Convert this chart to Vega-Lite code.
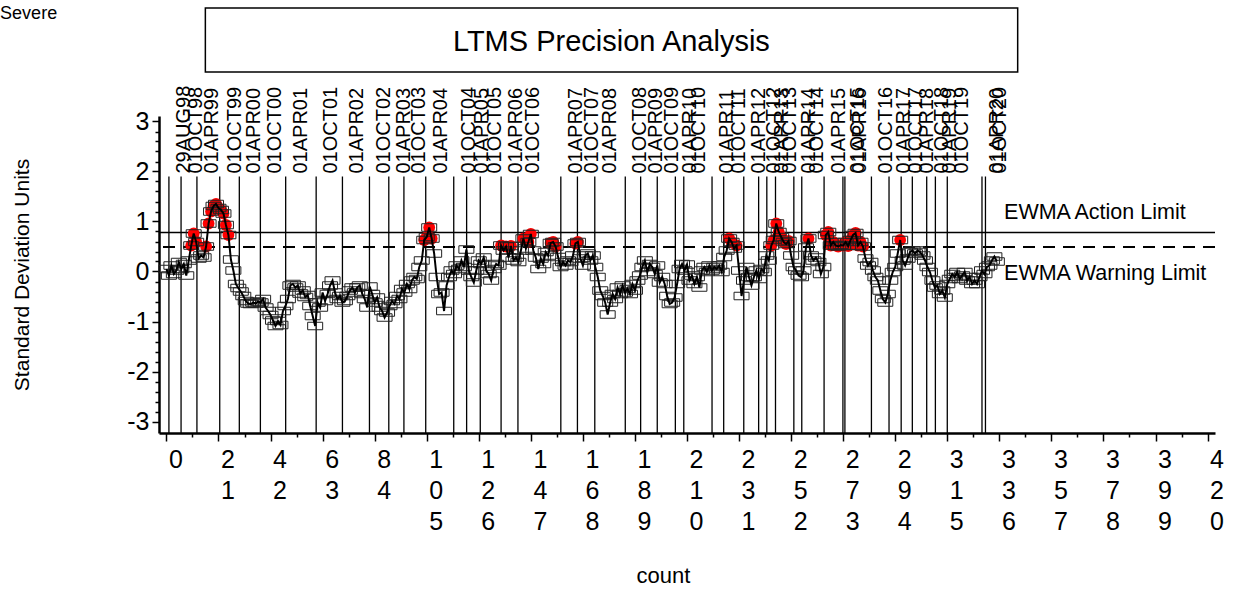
{
 "$schema": "https://vega.github.io/schema/vega-lite/v6.json",
 "width": 1056,
 "height": 317,
 "autosize": {"type": "none"},
 "padding": {"left": 159, "top": 116, "right": 18, "bottom": 160},
 "background": "white",
 "config": {
  "view": {"stroke": null},
  "font": "Liberation Sans",
  "axis": {"grid": false, "domainColor": "black", "tickColor": "black", "labelColor": "black", "titleColor": "black", "labelFont": "Liberation Sans", "titleFont": "Liberation Sans", "titleFontWeight": "normal"}
 },
 "datasets": {
  "dates": [
   {"date": "29AUG98", "count": 1.0}, {"date": "01OCT98", "count": 5.9}, {"date": "01APR99", "count": 12.3},
   {"date": "01OCT99", "count": 21.5}, {"date": "01APR00", "count": 29.4}, {"date": "01OCT00", "count": 37.9},
   {"date": "01APR01", "count": 48.1}, {"date": "01OCT01", "count": 60.4}, {"date": "01APR02", "count": 71.0},
   {"date": "01OCT02", "count": 81.9}, {"date": "01APR03", "count": 89.7}, {"date": "01OCT03", "count": 95.8},
   {"date": "01APR04", "count": 104.6}, {"date": "01OCT04", "count": 115.9}, {"date": "01APR05", "count": 121.1},
   {"date": "01OCT05", "count": 126.6}, {"date": "01APR06", "count": 135.0}, {"date": "01OCT06", "count": 141.8},
   {"date": "01APR07", "count": 159.1}, {"date": "01OCT07", "count": 165.8}, {"date": "01APR08", "count": 172.8},
   {"date": "01OCT08", "count": 185.1}, {"date": "01APR09", "count": 191.3}, {"date": "01OCT09", "count": 198.0},
   {"date": "01APR10", "count": 205.3}, {"date": "01OCT10", "count": 208.7}, {"date": "01APR11", "count": 220.1},
   {"date": "01OCT11", "count": 224.8}, {"date": "01APR12", "count": 232.9}, {"date": "01OCT12", "count": 238.9},
   {"date": "01APR13", "count": 242.2}, {"date": "01OCT13", "count": 245.7}, {"date": "01APR14", "count": 253.1},
   {"date": "01OCT14", "count": 256.3}, {"date": "01APR15", "count": 265.3}, {"date": "01OCT15", "count": 272.9},
   {"date": "01APR16", "count": 273.7}, {"date": "01OCT16", "count": 284.4}, {"date": "01APR17", "count": 291.5},
   {"date": "01OCT17", "count": 296.4}, {"date": "01APR18", "count": 300.9}, {"date": "01OCT18", "count": 306.7},
   {"date": "01APR19", "count": 310.2}, {"date": "01OCT19", "count": 315.0}, {"date": "01APR20", "count": 329.0},
   {"date": "01OCT20", "count": 330.4}
  ],
  "ewma": [
   {"count":0,"value":0.05},{"count":1,"value":-0.08},{"count":2,"value":0.12},{"count":3,"value":-0.05},{"count":4,"value":0.02},
   {"count":5,"value":0.19},{"count":6,"value":0.05},{"count":7,"value":0.15},{"count":8,"value":-0.08},{"count":9,"value":0.22},
   {"count":10,"value":0.52},{"count":11,"value":0.76},{"count":12,"value":0.59},{"count":13,"value":0.26},{"count":14,"value":0.32},
   {"count":15,"value":0.28},{"count":16,"value":0.5},{"count":17,"value":0.96},{"count":18,"value":1.2},{"count":19,"value":1.31},
   {"count":20,"value":1.35},{"count":21,"value":1.27},{"count":22,"value":1.23},{"count":23,"value":1.16},{"count":24,"value":0.93},
   {"count":25,"value":0.73},{"count":26,"value":0.24},{"count":27,"value":0.02},{"count":28,"value":-0.25},{"count":29,"value":-0.33},
   {"count":30,"value":-0.4},{"count":31,"value":-0.49},{"count":32,"value":-0.59},{"count":33,"value":-0.64},{"count":34,"value":-0.65},
   {"count":35,"value":-0.62},{"count":36,"value":-0.64},{"count":37,"value":-0.6},{"count":38,"value":-0.62},{"count":39,"value":-0.55},
   {"count":40,"value":-0.72},{"count":41,"value":-0.79},{"count":42,"value":-0.87},{"count":43,"value":-0.98},{"count":44,"value":-1.09},
   {"count":45,"value":-0.99},{"count":46,"value":-1.07},{"count":47,"value":-0.79},{"count":48,"value":-0.69},{"count":49,"value":-0.55},
   {"count":50,"value":-0.28},{"count":51,"value":-0.25},{"count":52,"value":-0.32},{"count":53,"value":-0.28},{"count":54,"value":-0.44},
   {"count":55,"value":-0.38},{"count":56,"value":-0.51},{"count":57,"value":-0.47},{"count":58,"value":-0.69},{"count":59,"value":-0.89},
   {"count":60,"value":-1.09},{"count":61,"value":-0.62},{"count":62,"value":-0.72},{"count":63,"value":-0.42},{"count":64,"value":-0.59},
   {"count":65,"value":-0.45},{"count":66,"value":-0.28},{"count":67,"value":-0.18},{"count":68,"value":-0.42},{"count":69,"value":-0.55},
   {"count":70,"value":-0.49},{"count":71,"value":-0.62},{"count":72,"value":-0.59},{"count":73,"value":-0.49},{"count":74,"value":-0.38},
   {"count":75,"value":-0.32},{"count":76,"value":-0.42},{"count":77,"value":-0.32},{"count":78,"value":-0.28},{"count":79,"value":-0.45},
   {"count":80,"value":-0.55},{"count":81,"value":-0.72},{"count":82,"value":-0.3},{"count":83,"value":-0.45},{"count":84,"value":-0.62},
   {"count":85,"value":-0.52},{"count":86,"value":-0.72},{"count":87,"value":-0.79},{"count":88,"value":-0.92},{"count":89,"value":-0.82},
   {"count":90,"value":-0.69},{"count":91,"value":-0.59},{"count":92,"value":-0.65},{"count":93,"value":-0.49},{"count":94,"value":-0.55},
   {"count":95,"value":-0.35},{"count":96,"value":-0.42},{"count":97,"value":-0.25},{"count":98,"value":-0.35},{"count":99,"value":-0.18},
   {"count":100,"value":-0.11},{"count":101,"value":-0.15},{"count":102,"value":0.09},{"count":103,"value":0.22},{"count":104,"value":0.63},
   {"count":105,"value":0.69},{"count":106,"value":0.88},{"count":107,"value":0.66},{"count":108,"value":0.36},{"count":109,"value":-0.11},
   {"count":110,"value":-0.45},{"count":111,"value":-0.42},{"count":112,"value":-0.79},{"count":113,"value":-0.28},{"count":114,"value":-0.11},
   {"count":115,"value":0.02},{"count":116,"value":-0.05},{"count":117,"value":0.12},{"count":118,"value":0.05},{"count":119,"value":0.22},
   {"count":120,"value":0.09},{"count":121,"value":0.44},{"count":122,"value":0.02},{"count":123,"value":-0.11},{"count":124,"value":-0.22},
   {"count":125,"value":0.02},{"count":126,"value":0.22},{"count":127,"value":0.15},{"count":128,"value":0.28},{"count":129,"value":0.02},
   {"count":130,"value":-0.05},{"count":131,"value":-0.18},{"count":132,"value":0.05},{"count":133,"value":0.15},{"count":134,"value":0.12},
   {"count":135,"value":0.52},{"count":136,"value":0.42},{"count":137,"value":0.5},{"count":138,"value":0.28},{"count":139,"value":0.51},
   {"count":140,"value":0.22},{"count":141,"value":0.28},{"count":142,"value":0.19},{"count":143,"value":0.42},{"count":144,"value":0.66},
   {"count":145,"value":0.46},{"count":146,"value":0.59},{"count":147,"value":0.75},{"count":148,"value":0.42},{"count":149,"value":0.28},
   {"count":150,"value":0.05},{"count":151,"value":0.26},{"count":152,"value":0.15},{"count":153,"value":0.39},{"count":154,"value":0.32},
   {"count":155,"value":0.57},{"count":156,"value":0.59},{"count":157,"value":0.5},{"count":158,"value":0.29},{"count":159,"value":0.09},
   {"count":160,"value":0.19},{"count":161,"value":0.12},{"count":162,"value":0.22},{"count":163,"value":0.19},{"count":164,"value":0.32},
   {"count":165,"value":0.56},{"count":166,"value":0.59},{"count":167,"value":0.26},{"count":168,"value":0.12},{"count":169,"value":0.32},
   {"count":170,"value":0.36},{"count":171,"value":0.22},{"count":172,"value":0.32},{"count":173,"value":0.09},{"count":174,"value":-0.11},
   {"count":175,"value":-0.38},{"count":176,"value":-0.49},{"count":177,"value":-0.62},{"count":178,"value":-0.86},{"count":179,"value":-0.62},
   {"count":180,"value":-0.45},{"count":181,"value":-0.55},{"count":182,"value":-0.32},{"count":183,"value":-0.45},{"count":184,"value":-0.28},
   {"count":185,"value":-0.42},{"count":186,"value":-0.35},{"count":187,"value":-0.45},{"count":188,"value":-0.25},{"count":189,"value":-0.38},
   {"count":190,"value":-0.18},{"count":191,"value":-0.08},{"count":192,"value":0.09},{"count":193,"value":0.22},{"count":194,"value":-0.01},
   {"count":195,"value":0.15},{"count":196,"value":0.09},{"count":197,"value":-0.05},{"count":198,"value":0.12},{"count":199,"value":-0.22},
   {"count":200,"value":-0.11},{"count":201,"value":-0.25},{"count":202,"value":-0.49},{"count":203,"value":-0.65},{"count":204,"value":-0.62},
   {"count":205,"value":-0.52},{"count":206,"value":-0.25},{"count":207,"value":0.05},{"count":208,"value":0.15},{"count":209,"value":0.02},
   {"count":210,"value":0.14},{"count":211,"value":-0.18},{"count":212,"value":-0.08},{"count":213,"value":-0.25},{"count":214,"value":-0.11},
   {"count":215,"value":-0.32},{"count":216,"value":0.02},{"count":217,"value":0.09},{"count":218,"value":-0.01},{"count":219,"value":0.12},
   {"count":220,"value":0.02},{"count":221,"value":0.09},{"count":222,"value":0.05},{"count":223,"value":0.12},{"count":224,"value":-0.01},
   {"count":225,"value":0.29},{"count":226,"value":0.42},{"count":227,"value":0.66},{"count":228,"value":0.59},{"count":229,"value":0.46},
   {"count":230,"value":0.52},{"count":231,"value":0.02},{"count":232,"value":-0.49},{"count":233,"value":-0.18},{"count":234,"value":0.09},
   {"count":235,"value":-0.11},{"count":236,"value":-0.28},{"count":237,"value":-0.11},{"count":238,"value":0.02},{"count":239,"value":-0.15},
   {"count":240,"value":0.05},{"count":241,"value":-0.01},{"count":242,"value":0.32},{"count":243,"value":0.22},{"count":244,"value":0.52},
   {"count":245,"value":0.63},{"count":246,"value":0.96},{"count":247,"value":0.79},{"count":248,"value":0.69},{"count":249,"value":0.59},
   {"count":250,"value":0.55},{"count":251,"value":0.61},{"count":252,"value":0.32},{"count":253,"value":0.09},{"count":254,"value":0.02},
   {"count":255,"value":-0.08},{"count":256,"value":-0.11},{"count":257,"value":0.02},{"count":258,"value":0.48},{"count":259,"value":0.66},
   {"count":260,"value":0.32},{"count":261,"value":0.22},{"count":262,"value":0.28},{"count":263,"value":0.19},{"count":264,"value":-0.05},
   {"count":265,"value":0.09},{"count":266,"value":0.73},{"count":267,"value":0.79},{"count":268,"value":0.52},{"count":269,"value":0.59},
   {"count":270,"value":0.52},{"count":271,"value":0.5},{"count":272,"value":0.53},{"count":273,"value":0.52},{"count":274,"value":0.59},
   {"count":275,"value":0.51},{"count":276,"value":0.63},{"count":277,"value":0.73},{"count":278,"value":0.77},{"count":279,"value":0.52},
   {"count":280,"value":0.59},{"count":281,"value":0.5},{"count":282,"value":0.26},{"count":283,"value":0.12},{"count":284,"value":0.19},
   {"count":285,"value":0.02},{"count":286,"value":-0.11},{"count":287,"value":-0.18},{"count":288,"value":-0.38},{"count":289,"value":-0.55},
   {"count":290,"value":-0.62},{"count":291,"value":-0.45},{"count":292,"value":-0.18},{"count":293,"value":-0.01},{"count":294,"value":0.09},
   {"count":295,"value":0.36},{"count":296,"value":0.63},{"count":297,"value":0.22},{"count":298,"value":0.12},{"count":299,"value":0.26},
   {"count":300,"value":0.39},{"count":301,"value":0.42},{"count":302,"value":0.36},{"count":303,"value":0.42},{"count":304,"value":0.39},
   {"count":305,"value":0.32},{"count":306,"value":0.22},{"count":307,"value":0.09},{"count":308,"value":-0.01},{"count":309,"value":-0.18},
   {"count":310,"value":-0.32},{"count":311,"value":-0.28},{"count":312,"value":-0.45},{"count":313,"value":-0.38},{"count":314,"value":-0.52},
   {"count":315,"value":-0.25},{"count":316,"value":-0.15},{"count":317,"value":-0.05},{"count":318,"value":-0.11},{"count":319,"value":-0.01},
   {"count":320,"value":-0.15},{"count":321,"value":-0.08},{"count":322,"value":-0.01},{"count":323,"value":-0.18},{"count":324,"value":-0.11},
   {"count":325,"value":-0.25},{"count":326,"value":-0.18},{"count":327,"value":-0.25},{"count":328,"value":-0.11},{"count":329,"value":0.02},
   {"count":330,"value":-0.05},{"count":331,"value":0.09},{"count":332,"value":0.12},{"count":333,"value":0.22},{"count":334,"value":0.3},
   {"count":335,"value":0.2}
  ]
 },
 "resolve": {"axis": {"x": "independent", "y": "independent"}},
 "layer": [
  {
   "data": {"name": "dates"},
   "mark": {"type": "rule", "color": "black", "strokeWidth": 1.3},
   "encoding": {
    "x": {"field": "count", "type": "quantitative",
          "scale": {"domain": [-3, 423], "nice": false, "zero": false},
          "axis": {"orient": "bottom", "values": [10.5,31.5,52.5,73.5,94.5,115.5,136.5,157.5,178.5,199.5,220.5,241.5,262.5,283.5,304.5,325.5,346.5,367.5,388.5,409.5],
                   "tickSize": 4, "tickWidth": 1.5, "labels": false, "domain": false, "title": null}},
    "y": {"datum": 1.9, "type": "quantitative",
          "scale": {"domain": [-3.23, 3.11], "nice": false, "zero": false},
          "axis": {"orient": "left", "values": [-2.8,-2.6,-2.4,-2.2,-1.8,-1.6,-1.4,-1.2,-0.8,-0.6,-0.4,-0.2,0.2,0.4,0.6,0.8,1.2,1.4,1.6,1.8,2.2,2.4,2.6,2.8],
                   "tickSize": 4, "tickWidth": 1.5, "labels": false, "domain": false, "title": null}},
    "y2": {"datum": -3.23}
   }
  },
  {
   "data": {"name": "dates"},
   "mark": {"type": "text", "angle": 270, "align": "left", "baseline": "middle", "fontSize": 20, "dx": 3, "dy": 15, "color": "black", "font": "Liberation Sans"},
   "encoding": {
    "x": {"field": "count", "type": "quantitative", "axis": null},
    "y": {"datum": 1.9, "type": "quantitative", "axis": null},
    "text": {"field": "date"}
   }
  },
  {
   "data": {"values": [{}]},
   "mark": {"type": "rule", "color": "black", "strokeWidth": 1.3},
   "encoding": {"y": {"datum": 0.78, "type": "quantitative", "axis": null}}
  },
  {
   "data": {"values": [{}]},
   "mark": {"type": "rule", "color": "black", "strokeWidth": 2, "strokeDash": [12, 8]},
   "encoding": {"y": {"datum": 0.49, "type": "quantitative", "axis": null}}
  },
  {
   "data": {"values": [{}]},
   "mark": {"type": "text", "align": "left", "baseline": "middle", "fontSize": 21.5, "color": "black", "font": "Liberation Sans", "text": "EWMA Action Limit"},
   "encoding": {"x": {"datum": 337.9, "type": "quantitative", "axis": null}, "y": {"datum": 1.17, "type": "quantitative", "axis": null}}
  },
  {
   "data": {"values": [{}]},
   "mark": {"type": "text", "align": "left", "baseline": "middle", "fontSize": 21.5, "color": "black", "font": "Liberation Sans", "text": "EWMA Warning Limit"},
   "encoding": {"x": {"datum": 337.9, "type": "quantitative", "axis": null}, "y": {"datum": -0.05, "type": "quantitative", "axis": null}}
  },
  {
   "data": {"values": [{}]},
   "mark": {"type": "rect", "fill": null, "fillOpacity": 0, "stroke": "black", "strokeWidth": 1.5},
   "encoding": {
    "x": {"datum": 15.7, "type": "quantitative", "axis": null},
    "x2": {"datum": 343.4},
    "y": {"datum": 5.27, "type": "quantitative", "axis": null},
    "y2": {"datum": 3.99}
   }
  },
  {
   "data": {"values": [{}]},
   "mark": {"type": "text", "align": "center", "baseline": "middle", "fontSize": 29, "color": "black", "font": "Liberation Sans", "text": "LTMS Precision Analysis"},
   "encoding": {"x": {"datum": 179.5, "type": "quantitative", "axis": null}, "y": {"datum": 4.59, "type": "quantitative", "axis": null}}
  },
  {
   "data": {"values": [{}]},
   "mark": {"type": "text", "align": "left", "baseline": "middle", "fontSize": 18, "color": "black", "font": "Liberation Sans", "text": "Severe"},
   "encoding": {"x": {"datum": -67.1, "type": "quantitative", "axis": null}, "y": {"datum": 5.15, "type": "quantitative", "axis": null}}
  },
  {
   "data": {"name": "ewma"},
   "transform": [{"filter": "datum.value > 0.49"}],
   "mark": {"type": "point", "shape": "circle", "filled": true, "color": "#ff0000", "opacity": 1, "size": 140, "strokeWidth": 0},
   "encoding": {
    "x": {"field": "count", "type": "quantitative", "axis": null},
    "y": {"field": "value", "type": "quantitative", "axis": null}
   }
  },
  {
   "data": {"name": "ewma"},
   "mark": {"type": "point", "shape": "M-1,-0.5H1V0.5H-1Z", "filled": false, "color": "#222222", "opacity": 1, "size": 225, "strokeWidth": 1},
   "encoding": {
    "x": {"field": "count", "type": "quantitative", "axis": null},
    "y": {"field": "value", "type": "quantitative", "axis": null}
   }
  },
  {
   "data": {"name": "ewma"},
   "mark": {"type": "line", "color": "black", "strokeWidth": 2},
   "encoding": {
    "x": {"field": "count", "type": "quantitative",
          "scale": {"domain": [-3, 423], "nice": false, "zero": false},
          "axis": {"orient": "bottom", "values": [0,21,42,63,84,105,126,147,168,189,210,231,252,273,294,315,336,357,378,399,420],
                   "tickSize": 8, "tickWidth": 1.5, "domainWidth": 2.5,
                   "labelExpr": "split('' + datum.value, '')", "labelFontSize": 25, "labelLineHeight": 31,
                   "labelOffset": 9, "labelPadding": 6, "labelBaseline": "top", "labelAlign": "center", "labelFlush": false, "labelOverlap": false,
                   "title": "count", "titleFontSize": 22, "titleX": 504, "titleY": 142, "titleBaseline": "middle", "titleAlign": "center"}},
    "y": {"field": "value", "type": "quantitative",
          "scale": {"domain": [-3.23, 3.11], "nice": false, "zero": false},
          "axis": {"orient": "left", "values": [-3,-2,-1,0,1,2,3],
                   "tickSize": 7, "tickWidth": 1.5, "domainWidth": 2.5,
                   "labelExpr": "'' + datum.value", "labelFontSize": 25, "labelPadding": 3, "labelBaseline": "middle",
                   "title": "Standard Deviation Units", "titleFontSize": 21, "titleX": -137, "titleY": 158.5, "titleAngle": 270,
                   "titleBaseline": "middle", "titleAlign": "center"}}
   }
  }
 ]
}
